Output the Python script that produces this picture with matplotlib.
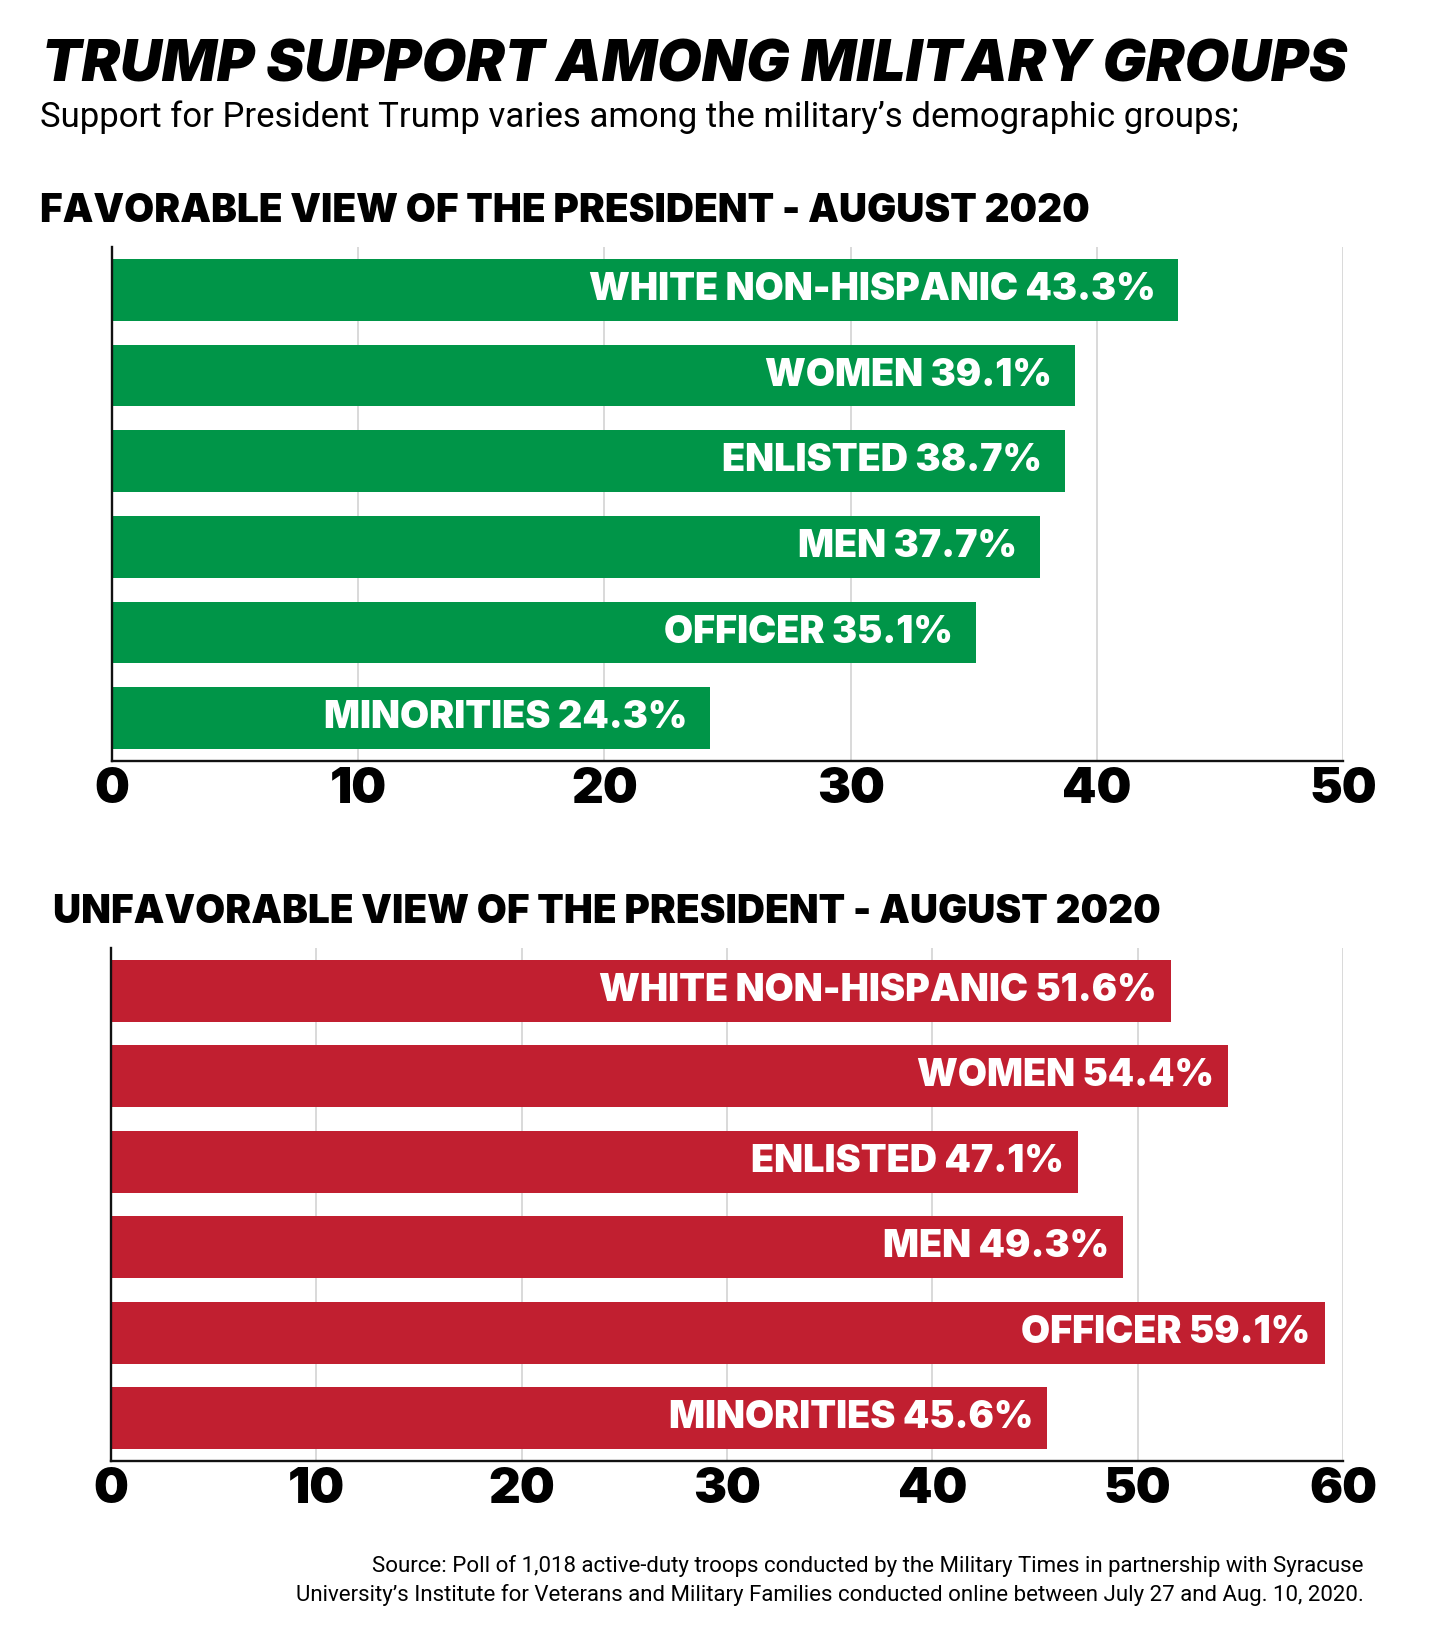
import matplotlib
matplotlib.use('Agg')
import matplotlib.pyplot as plt

# ------------------ Data ------------------
groups = ['WHITE NON-HISPANIC', 'WOMEN', 'ENLISTED', 'MEN', 'OFFICER', 'MINORITIES']
favorable = [43.3, 39.1, 38.7, 37.7, 35.1, 24.3]
unfavorable = [51.6, 54.4, 47.1, 49.3, 59.1, 45.6]
fav_ticks = [0, 10, 20, 30, 40, 50]
unfav_ticks = [0, 10, 20, 30, 40, 50, 60]

GREEN = '#009548'
RED = '#c11f30'
W, H = 1432, 1638
HEAVY = ['Inter', 'DejaVu Sans']
LIGHT = ['Roboto', 'DejaVu Sans']

plt.rcParams['font.family'] = HEAVY

fig = plt.figure(figsize=(W / 100, H / 100), dpi=100)
fig.patch.set_facecolor('white')


def px(x, y):
    # pixel coords (from top-left) -> figure fraction
    return x / W, 1 - y / H


def bar_panel(rect, values, ticks, color, label_pad):
    ax = fig.add_axes(rect)
    y = list(range(len(groups)))
    ax.barh(y, values, height=0.72, color=color, zorder=3)
    ax.set_ylim(len(groups) - 0.5, -0.5)
    ax.set_xlim(ticks[0], ticks[-1])
    ax.set_xticks(ticks)
    ax.set_xticklabels([str(t) for t in ticks], fontsize=35.5, fontweight=900, family=HEAVY)
    ax.set_yticks([])
    ax.tick_params(axis='x', length=0, pad=4)
    ax.grid(axis='x', color='#cfcfcf', linewidth=1.1, zorder=0)
    ax.set_axisbelow(True)
    for s in ['top', 'right']:
        ax.spines[s].set_visible(False)
    for s in ['left', 'bottom']:
        ax.spines[s].set_linewidth(1.7)
        ax.spines[s].set_color('#111111')
        ax.spines[s].set_zorder(4)
    for i, (g, v) in enumerate(zip(groups, values)):
        ax.annotate(f'{g} {v}%', xy=(v, i), xytext=(-label_pad, 0),
                    textcoords='offset points', ha='right', va='center',
                    color='white', fontsize=27.2, fontweight=900, family=HEAVY, zorder=5)
    return ax


# top panel: favorable
l, b = px(112, 761)
_, t = px(112, 247)
bar_panel([l, b, 1343 / W - l, t - b], favorable, fav_ticks, GREEN, 16.5)

# bottom panel: unfavorable
l, b = px(111, 1461)
_, t = px(111, 948)
bar_panel([l, b, 1343 / W - l, t - b], unfavorable, unfav_ticks, RED, 10)

# ------------------ Texts ------------------
fig.text(*px(42, 82), 'TRUMP SUPPORT AMONG MILITARY GROUPS', fontsize=41.5,
         fontweight=900, fontstyle='italic', family=HEAVY, va='baseline', ha='left')
fig.text(*px(40, 127), 'Support for President Trump varies among the military\u2019s demographic groups;',
         fontsize=25, family=LIGHT, va='baseline', ha='left')
fig.text(*px(40, 222), 'FAVORABLE VIEW OF THE PRESIDENT - AUGUST 2020', fontsize=27.9,
         fontweight=900, family=HEAVY, va='baseline', ha='left')
fig.text(*px(53, 923), 'UNFAVORABLE VIEW OF THE PRESIDENT - AUGUST 2020', fontsize=27.9,
         fontweight=900, family=HEAVY, va='baseline', ha='left')
fig.text(*px(1364, 1572), 'Source: Poll of 1,018 active-duty troops conducted by the Military Times in partnership with Syracuse',
         fontsize=16, family=LIGHT, va='baseline', ha='right')
fig.text(*px(1364, 1601), 'University\u2019s Institute for Veterans and Military Families conducted online between July 27 and Aug. 10, 2020.',
         fontsize=16, family=LIGHT, va='baseline', ha='right')

fig.savefig('out.png', dpi=100, facecolor='white')
